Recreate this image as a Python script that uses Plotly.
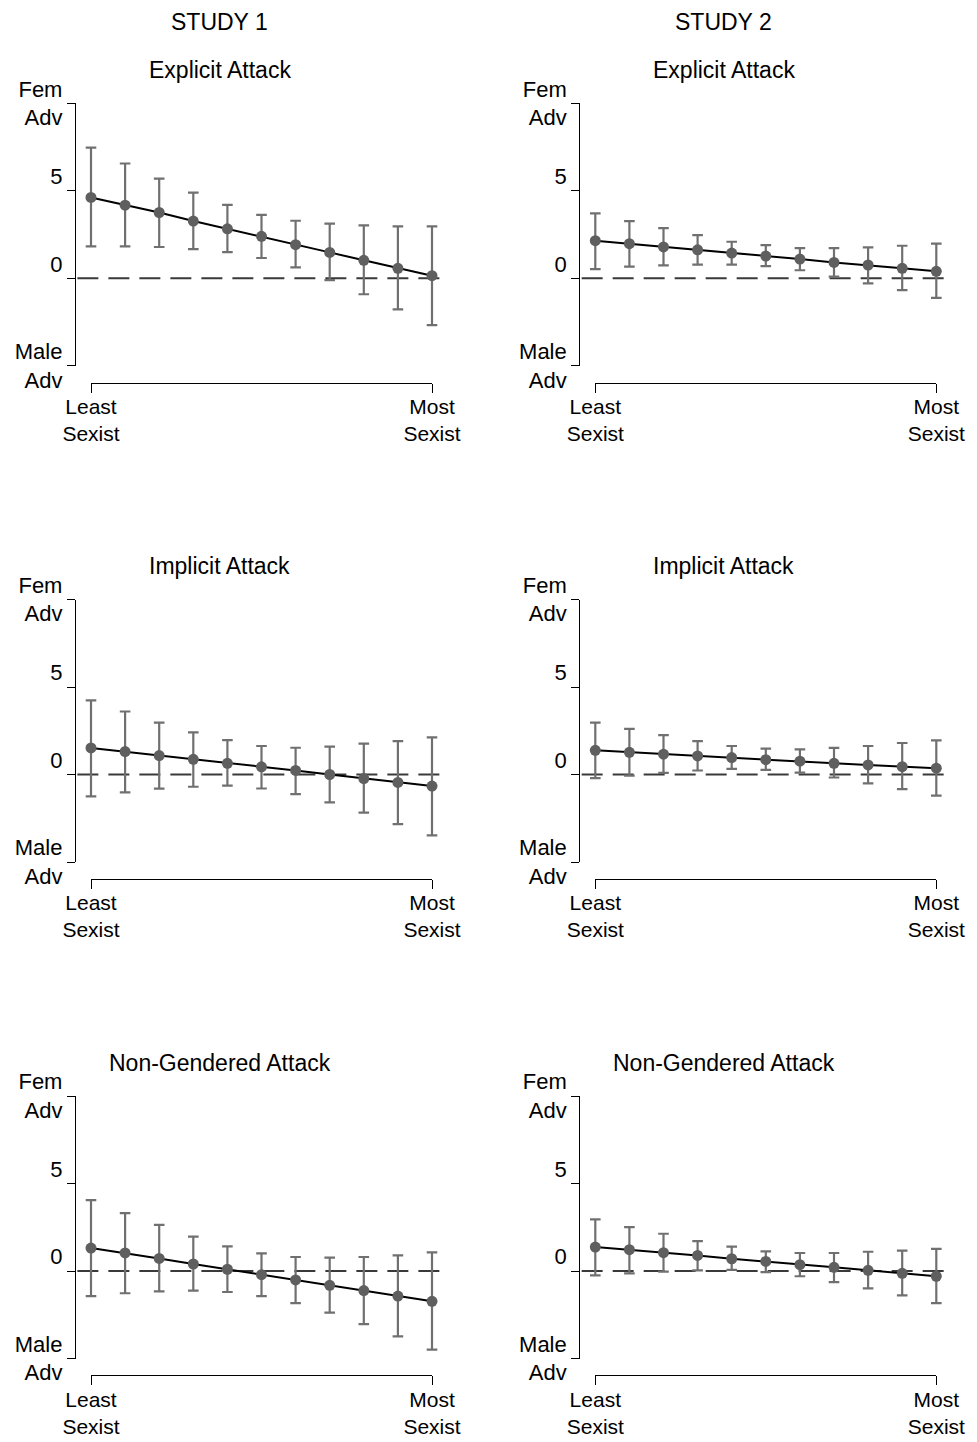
import plotly.graph_objects as go

# ---------------- data ----------------
x_levels = list(range(1, 12))
x_tick_vals = [1, 11]
x_tick_text = ["Least<br>Sexist", "Most<br>Sexist"]
y_tick_vals = [-5, 0, 5, 10]
y_tick_text = ["Male<br>Adv", "0<br> ", "5<br> ", "Fem<br>Adv"]
study_labels = ["STUDY 1", "STUDY 2"]
attack_labels = ["Explicit Attack", "Implicit Attack", "Non-Gendered Attack"]

s1_explicit_est = [4.62, 4.18, 3.76, 3.27, 2.83, 2.40, 1.92, 1.48, 1.03, 0.57, 0.15]
s1_explicit_hi = [7.47, 6.56, 5.70, 4.90, 4.20, 3.63, 3.29, 3.12, 3.02, 2.97, 2.97]
s1_explicit_lo = [1.83, 1.83, 1.79, 1.67, 1.50, 1.16, 0.63, -0.10, -0.91, -1.77, -2.68]

s2_explicit_est = [2.15, 1.98, 1.79, 1.63, 1.44, 1.27, 1.10, 0.91, 0.76, 0.57, 0.40]
s2_explicit_hi = [3.71, 3.27, 2.87, 2.47, 2.09, 1.90, 1.73, 1.73, 1.77, 1.86, 1.98]
s2_explicit_lo = [0.53, 0.67, 0.74, 0.78, 0.78, 0.70, 0.46, 0.10, -0.29, -0.67, -1.12]

s1_implicit_est = [1.52, 1.31, 1.08, 0.87, 0.64, 0.44, 0.23, 0.00, -0.23, -0.45, -0.66]
s1_implicit_hi = [4.24, 3.60, 2.97, 2.41, 1.97, 1.63, 1.53, 1.59, 1.76, 1.91, 2.12]
s1_implicit_lo = [-1.25, -1.02, -0.81, -0.70, -0.64, -0.80, -1.12, -1.59, -2.18, -2.84, -3.48]

s2_implicit_est = [1.38, 1.27, 1.16, 1.06, 0.97, 0.85, 0.76, 0.64, 0.55, 0.45, 0.36]
s2_implicit_hi = [2.97, 2.61, 2.25, 1.91, 1.63, 1.48, 1.44, 1.52, 1.63, 1.80, 1.95]
s2_implicit_lo = [-0.21, -0.06, 0.09, 0.23, 0.32, 0.27, 0.11, -0.17, -0.51, -0.83, -1.21]

s1_nongender_est = [1.31, 1.03, 0.72, 0.40, 0.10, -0.21, -0.51, -0.82, -1.12, -1.43, -1.73]
s1_nongender_hi = [4.05, 3.31, 2.64, 1.96, 1.41, 1.01, 0.80, 0.76, 0.80, 0.89, 1.06]
s1_nongender_lo = [-1.44, -1.27, -1.16, -1.12, -1.20, -1.44, -1.84, -2.38, -3.04, -3.73, -4.49]

s2_nongender_est = [1.37, 1.22, 1.05, 0.89, 0.70, 0.55, 0.36, 0.21, 0.04, -0.13, -0.30]
s2_nongender_hi = [2.95, 2.51, 2.13, 1.71, 1.39, 1.12, 1.03, 1.03, 1.10, 1.16, 1.27]
s2_nongender_lo = [-0.25, -0.13, -0.04, 0.04, 0.06, -0.06, -0.30, -0.63, -0.99, -1.39, -1.83]

panels = [
    (0, 0, s1_explicit_est, s1_explicit_lo, s1_explicit_hi),
    (0, 1, s2_explicit_est, s2_explicit_lo, s2_explicit_hi),
    (1, 0, s1_implicit_est, s1_implicit_lo, s1_implicit_hi),
    (1, 1, s2_implicit_est, s2_implicit_lo, s2_implicit_hi),
    (2, 0, s1_nongender_est, s1_nongender_lo, s1_nongender_hi),
    (2, 1, s2_nongender_est, s2_nongender_lo, s2_nongender_hi),
]

# ---------------- geometry / style ----------------
W, H = 977, 1442
col_off = [0.0, 504.3]
row_top = [103.3, 599.5, 1096.0]
FONT = "Liberation Sans, Arial, sans-serif"
FS = 22
FS_X = 21
FS_TITLE = 23


def fx(px):
    return px / W


def fy(py):
    return 1 - py / H


fig = go.Figure()
layout = dict(
    width=W, height=H, margin=dict(l=0, r=0, t=0, b=0, pad=0, autoexpand=False),
    paper_bgcolor="white", plot_bgcolor="rgba(0,0,0,0)", showlegend=False,
    font=dict(family=FONT, size=FS, color="black"),
    annotations=[], shapes=[],
)

for (r, c, est, lo, hi) in panels:
    k = r * 2 + c + 1
    kb = k + 6
    off = col_off[c]
    top = row_top[r]
    xid = "x" if k == 1 else f"x{k}"
    yid = "y" if k == 1 else f"y{k}"
    xbid = f"x{kb}"

    plus = [h - e for h, e in zip(hi, est)]
    minus = [e - l for e, l in zip(est, lo)]

    fig.add_trace(go.Scatter(
        x=x_levels, y=est, xaxis=xid, yaxis=yid, mode="lines+markers",
        line=dict(color="black", width=2),
        marker=dict(color="#5f5f5f", size=11),
        error_y=dict(type="data", symmetric=False, array=plus, arrayminus=minus,
                     color="#707070", thickness=2.2, width=5.3),
        hoverinfo="skip",
    ))
    # carrier trace so the bracket x-axis is drawn
    fig.add_trace(go.Scatter(
        x=[x_tick_vals[0], x_tick_vals[-1]], y=[None, None], xaxis=xbid, yaxis=yid,
        mode="markers", hoverinfo="skip", showlegend=False,
    ))

    layout["xaxis" if k == 1 else f"xaxis{k}"] = dict(
        domain=[fx(77.36 + off), fx(445.64 + off)], range=[0.6, 11.4],
        anchor=yid, visible=False, fixedrange=True, automargin=False,
    )
    layout["yaxis" if k == 1 else f"yaxis{k}"] = dict(
        domain=[fy(top + 262.5), fy(top)], range=[-5, 10],
        anchor="free", position=fx(75 + off), automargin=False,
        showline=True, linecolor="black", linewidth=1.3, mirror=False,
        ticks="outside", ticklen=8, tickwidth=1.3, tickcolor="black",
        tickvals=y_tick_vals, ticktext=y_tick_text,
        showgrid=False, zeroline=False, fixedrange=True,
        tickfont=dict(family=FONT, size=FS, color="black"),
    )
    layout[f"xaxis{kb}"] = dict(
        domain=[fx(91 + off), fx(432 + off)], range=[1, 11],
        anchor="free", position=fy(top + 279.3), automargin=False,
        showline=True, linecolor="black", linewidth=1.3,
        ticks="outside", ticklen=9, tickwidth=1.3, tickcolor="black",
        tickvals=x_tick_vals, ticktext=x_tick_text, ticklabelstandoff=-4,
        showgrid=False, zeroline=False, fixedrange=True,
        tickfont=dict(family=FONT, size=FS_X, color="black"),
    )

    layout["shapes"].append(dict(
        type="line", xref=f"{xid} domain", yref=yid, x0=0, x1=1, y0=0, y1=0,
        line=dict(color="#3a3a3a", width=2, dash="21px,10px"), layer="below",
    ))
    layout["annotations"].append(dict(
        text=attack_labels[r], x=fx(219.5 + off), y=fy(top - 33),
        xref="paper", yref="paper", xanchor="center", yanchor="middle",
        showarrow=False, font=dict(family=FONT, size=FS_TITLE, color="black"),
    ))

for c, lab in enumerate(study_labels):
    layout["annotations"].append(dict(
        text=lab, x=fx(219.5 + col_off[c]), y=fy(22),
        xref="paper", yref="paper", xanchor="center", yanchor="middle",
        showarrow=False, font=dict(family=FONT, size=FS_TITLE, color="black"),
    ))

fig.update_layout(**layout)
fig.write_html(
    "out.html",
    config={"displayModeBar": False},
    post_script="document.body.style.margin='0';document.body.style.padding='0';"
                "document.documentElement.style.overflow='hidden';",
)
